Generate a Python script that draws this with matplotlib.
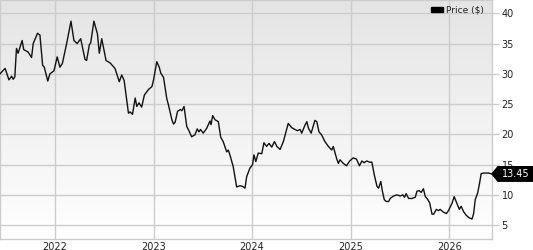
import matplotlib
matplotlib.use('Agg')
import matplotlib.pyplot as plt
import matplotlib.dates as mdates
import matplotlib.patches as patches
import matplotlib.transforms as mtransforms
import numpy as np
import pandas as pd

# price series
dates = [
    '2021-06-11', '2021-06-30', '2021-07-14', '2021-07-24', '2021-07-30', '2021-08-05',
    '2021-08-11', '2021-08-17', '2021-09-01', '2021-09-07', '2021-09-23', '2021-10-06',
    '2021-10-12', '2021-10-28', '2021-11-06', '2021-11-16', '2021-11-22', '2021-12-05',
    '2021-12-13', '2021-12-28', '2022-01-09', '2022-01-19', '2022-01-28', '2022-02-13',
    '2022-03-01', '2022-03-12', '2022-03-24', '2022-04-06', '2022-04-22', '2022-04-28',
    '2022-05-08', '2022-05-13', '2022-05-25', '2022-06-07', '2022-06-14', '2022-06-23',
    '2022-07-09', '2022-07-24', '2022-08-11', '2022-08-27', '2022-09-05', '2022-09-14',
    '2022-09-30', '2022-10-06', '2022-10-15', '2022-10-25', '2022-10-31', '2022-11-08',
    '2022-11-18', '2022-11-28', '2022-12-13', '2022-12-26', '2023-01-01', '2023-01-13',
    '2023-01-22', '2023-01-28', '2023-02-07', '2023-02-19', '2023-02-25', '2023-03-10',
    '2023-03-16', '2023-03-22', '2023-03-31', '2023-04-10', '2023-04-16', '2023-04-24',
    '2023-05-04', '2023-05-12', '2023-05-22', '2023-06-03', '2023-06-12', '2023-06-18',
    '2023-06-24', '2023-07-04', '2023-07-17', '2023-07-29', '2023-08-02', '2023-08-08',
    '2023-08-17', '2023-08-29', '2023-09-07', '2023-09-16', '2023-09-29', '2023-10-05',
    '2023-10-11', '2023-10-23', '2023-11-05', '2023-11-17', '2023-11-27', '2023-12-06',
    '2023-12-12', '2023-12-24', '2024-01-03', '2024-01-08', '2024-01-15', '2024-01-24',
    '2024-02-06', '2024-02-14', '2024-02-24', '2024-03-04', '2024-03-14', '2024-03-24',
    '2024-04-02', '2024-04-14', '2024-04-26', '2024-05-14', '2024-05-27', '2024-06-08',
    '2024-06-17', '2024-06-27', '2024-07-03', '2024-07-15', '2024-07-22', '2024-07-28',
    '2024-08-07', '2024-08-21', '2024-08-28', '2024-09-05', '2024-09-15', '2024-09-27',
    '2024-10-10', '2024-10-22', '2024-10-28', '2024-11-10', '2024-11-16', '2024-11-22',
    '2024-12-04', '2024-12-16', '2024-12-28', '2025-01-10', '2025-01-22', '2025-02-02',
    '2025-02-11', '2025-02-19', '2025-03-01', '2025-03-11', '2025-03-20', '2025-03-29',
    '2025-04-08', '2025-04-14', '2025-04-22', '2025-04-28', '2025-05-05', '2025-05-12',
    '2025-05-21', '2025-05-27', '2025-06-08', '2025-06-21', '2025-07-03', '2025-07-13',
    '2025-07-19', '2025-07-25', '2025-08-03', '2025-08-15', '2025-08-28', '2025-09-03',
    '2025-09-11', '2025-09-19', '2025-09-27', '2025-10-04', '2025-10-12', '2025-10-20',
    '2025-10-29', '2025-11-04', '2025-11-14', '2025-11-22', '2025-11-28', '2025-12-08',
    '2025-12-21', '2025-12-29', '2026-01-11', '2026-01-19', '2026-01-29', '2026-02-07',
    '2026-02-14', '2026-02-23', '2026-03-05', '2026-03-16', '2026-03-26', '2026-04-01',
    '2026-04-07', '2026-04-16', '2026-04-23', '2026-04-29', '2026-05-08', '2026-05-26',
    '2026-06-08',
]
prices = [
    30.0, 30.9, 29.0, 29.6, 29.1, 29.5,
    34.2, 33.4, 35.5, 34.0, 33.6, 32.7,
    35.0, 36.7, 36.4, 31.4, 31.1, 28.8,
    30.0, 30.5, 32.8, 31.1, 31.7, 35.0,
    38.7, 35.5, 35.0, 35.8, 32.4, 32.2,
    34.8, 35.1, 38.7, 36.6, 33.4, 35.8,
    32.2, 31.8, 30.9, 28.7, 29.8, 28.9,
    23.5, 23.7, 23.3, 26.0, 24.6, 25.2,
    24.5, 26.5, 27.4, 27.9, 29.0, 32.0,
    31.1, 30.1, 29.4, 25.9, 24.9, 22.4,
    21.7, 22.0, 23.8, 24.1, 23.9, 24.6,
    21.3, 20.6, 19.6, 19.9, 20.9, 20.4,
    20.8, 20.2, 21.0, 22.2, 21.6, 23.1,
    22.4, 22.1, 19.5, 18.8, 17.1, 17.4,
    16.6, 14.7, 11.3, 11.5, 11.4, 11.1,
    13.0, 14.4, 15.0, 16.6, 15.5, 16.9,
    16.8, 18.6, 18.0, 18.5, 17.9, 18.8,
    18.0, 17.5, 18.8, 21.8, 21.1, 20.8,
    20.6, 20.8, 20.2, 21.5, 22.1, 21.0,
    20.2, 22.3, 22.1, 20.4, 19.9, 18.8,
    18.0, 17.4, 18.0, 15.9, 15.2, 15.8,
    15.2, 14.8, 15.6, 16.1, 15.9, 14.8,
    15.6, 15.3, 15.6, 15.4, 15.4, 13.3,
    11.4, 11.1, 12.2, 10.6, 9.2, 8.9,
    8.9, 9.4, 9.8, 10.0, 9.8, 10.0,
    9.6, 10.2, 9.4, 9.4, 9.6, 10.6,
    10.7, 10.4, 11.0, 9.7, 9.3, 8.7,
    6.8, 6.8, 7.6, 7.4, 7.6, 7.2,
    6.9, 7.4, 8.6, 9.7, 8.6, 7.6,
    8.1, 7.2, 6.6, 6.2, 6.0, 6.9,
    9.2, 10.3, 11.9, 13.5, 13.6, 13.6,
    13.45,
]
year_ticks = ['2022-01-01', '2023-01-01', '2024-01-01', '2025-01-01', '2026-01-01']
year_labels = ['2022', '2023', '2024', '2025', '2026']
y_ticks = [5, 10, 15, 20, 25, 30, 35, 40]
last_label = '13.45'

df = pd.DataFrame({'date': pd.to_datetime(dates), 'price': prices})

fig = plt.figure(figsize=(5.33, 2.5), dpi=100)
ax = fig.add_axes([0.0, 0.044, 0.923, 0.956])

# grey-to-white background gradient
grad = np.linspace(0, 1, 256).reshape(-1, 1)
ax.imshow(grad, cmap=matplotlib.colors.LinearSegmentedColormap.from_list('bg', ['#e4e4e4', '#ffffff']),
          aspect='auto', extent=[0, 1, 0, 1], transform=ax.transAxes, zorder=0)

ax.plot(df['date'], df['price'], color='#111111', linewidth=1.0, zorder=3)

ax.set_xlim(df['date'].iloc[0], df['date'].iloc[-1])
ax.set_ylim(2.7, 42.2)

ax.set_xticks(pd.to_datetime(year_ticks))
ax.set_xticklabels(year_labels)
ax.set_yticks(y_ticks)
ax.yaxis.tick_right()
ax.tick_params(axis='y', length=5, width=1, color='#cccccc', pad=2, labelsize=7, labelcolor='#222222')
ax.tick_params(axis='x', length=0, pad=2, labelsize=7, labelcolor='#222222')
ax.grid(True, color='#cccccc', linewidth=1.0, zorder=1)
ax.set_axisbelow(True)
for s in ax.spines.values():
    s.set_color('#cccccc')
    s.set_linewidth(1.0)

# legend
handle = patches.Patch(facecolor='black', edgecolor='black')
leg = ax.legend([handle], ['Price ($)'], loc='upper right', bbox_to_anchor=(0.995, 1.0),
                frameon=False, fontsize=6.5, handlelength=1.3, handleheight=0.45,
                handletextpad=0.4, borderaxespad=0.2)
for t in leg.get_texts():
    t.set_color('#222222')

# last price marker box
trans = mtransforms.blended_transform_factory(ax.transAxes, ax.transData)
last = prices[-1]
w0 = 1.0
w1 = 1.0 + 6 / 492
w2 = 1.0 + 41 / 492
h = 1.2
poly = patches.Polygon([[w0, last], [w1, last + h], [w2, last + h], [w2, last - h], [w1, last - h]],
                       closed=True, facecolor='black', edgecolor='black', transform=trans,
                       clip_on=False, zorder=5)
ax.add_patch(poly)
ax.text((w1 + w2) / 2, last, last_label, transform=trans, color='white', fontsize=7,
        ha='center', va='center', zorder=6, clip_on=False)

fig.savefig('out.png', dpi=100)
